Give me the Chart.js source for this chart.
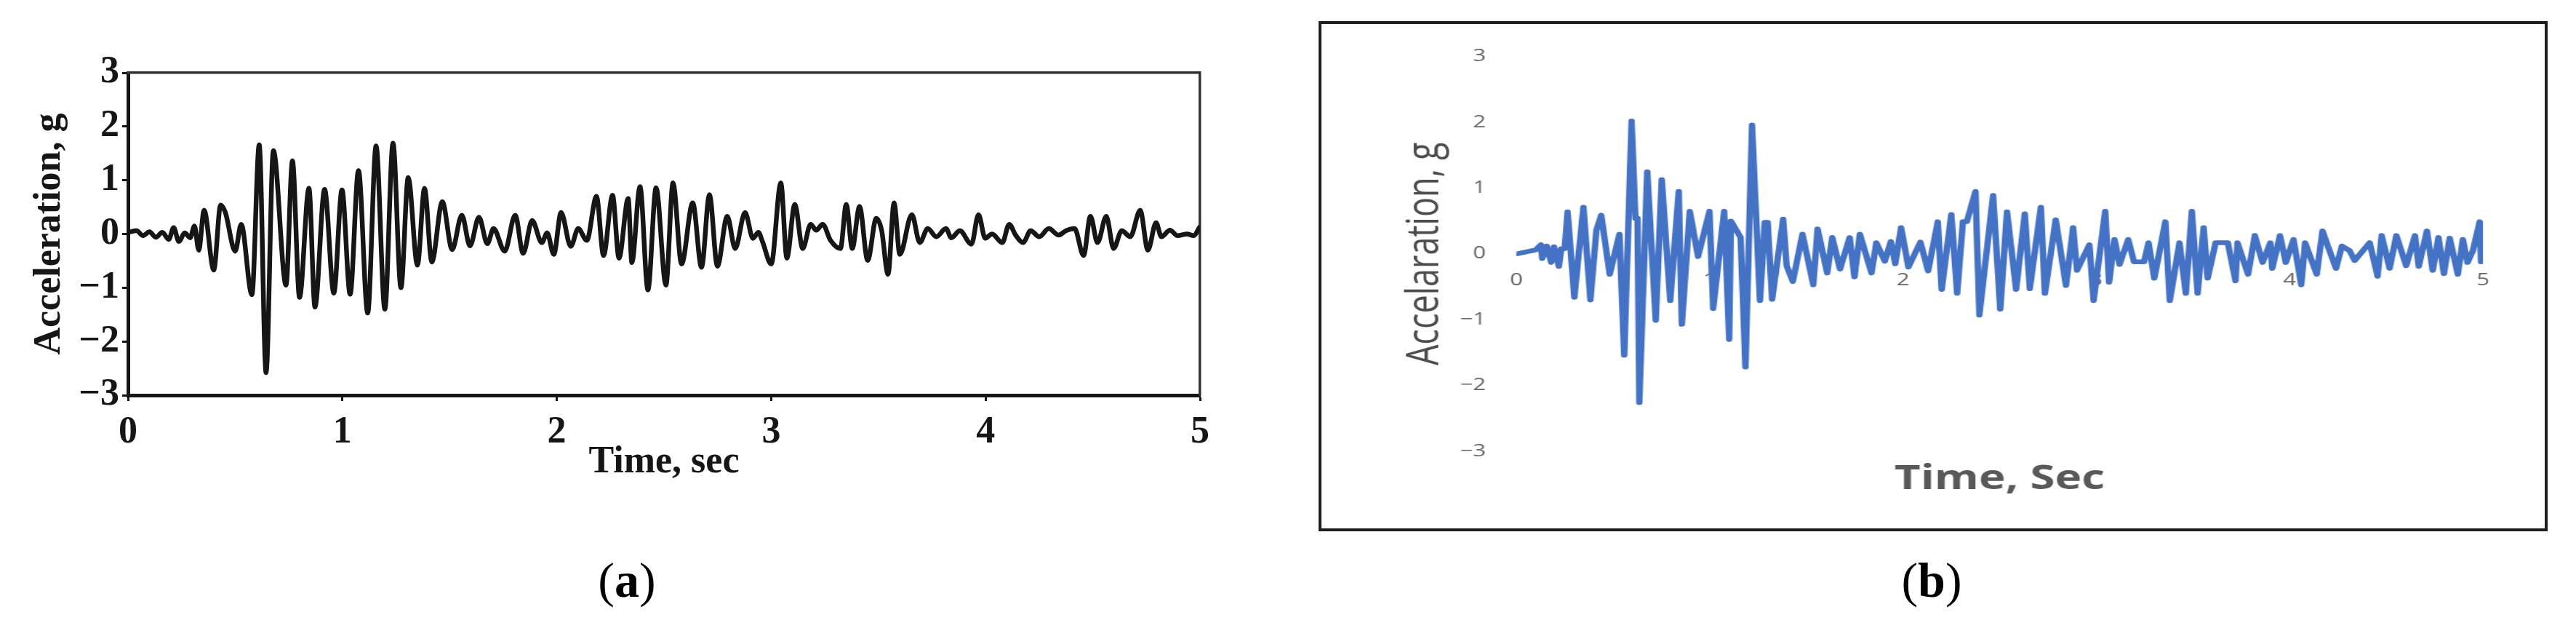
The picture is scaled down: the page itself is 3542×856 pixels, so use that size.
<!DOCTYPE html>
<html>
<head>
<meta charset="utf-8">
<script src="https://cdn.jsdelivr.net/npm/chart.js@4.4.1/dist/chart.umd.min.js"></script>
<style>
  html, body { margin: 0; padding: 0; background: #fff; }
  body { width: 3542px; height: 856px; position: relative; overflow: hidden; }
  #chartA { position: absolute; left: 0; top: 0; }
  #boxB {
    position: absolute; left: 1813px; top: 29px; width: 1690px; height: 701px;
    border: 4px solid #1e1e1e; box-sizing: border-box; overflow: hidden;
  }
  #stretchB { position: absolute; left: 0; top: 0; transform: scaleX(1.35); transform-origin: 0 0; }
  .caption {
    position: absolute; top: 763px; transform: translateX(-50%);
    font-family: 'Liberation Serif', 'Times New Roman', serif; font-size: 68px; line-height: 1; color: #000;
  }
</style>
</head>
<body>
<canvas id="chartA" width="1720" height="720"></canvas>
<div id="boxB">
  <div id="stretchB"><canvas id="chartB" width="1246" height="693"></canvas></div>
</div>
<div class="caption" style="left:862px">(<b>a</b>)</div>
<div class="caption" style="left:2656px">(<b>b</b>)</div>

<script>
const timeA = [0, 0.04, 0.07, 0.10, 0.13, 0.16, 0.19, 0.213, 0.237, 0.265, 0.29, 0.31, 0.33, 0.355, 0.40,
  0.432, 0.454, 0.50, 0.528, 0.578, 0.612, 0.644, 0.678, 0.737, 0.767, 0.80, 0.844, 0.872, 0.917, 0.96,
  0.998, 1.036, 1.075, 1.118, 1.157, 1.198, 1.236, 1.273, 1.307, 1.35, 1.383, 1.417, 1.466, 1.512, 1.557,
  1.595, 1.637, 1.676, 1.705, 1.757, 1.806, 1.843, 1.885, 1.93, 1.955, 1.986, 2.02, 2.065, 2.10, 2.14,
  2.185, 2.218, 2.26, 2.29, 2.333, 2.35, 2.388, 2.425, 2.463, 2.509, 2.542, 2.582, 2.634, 2.675, 2.712,
  2.749, 2.795, 2.832, 2.878, 2.915, 2.94, 2.96, 3.0, 3.045, 3.073, 3.11, 3.147, 3.184, 3.21, 3.24,
  3.277, 3.323, 3.35, 3.378, 3.412, 3.45, 3.49, 3.515, 3.545, 3.573, 3.60, 3.656, 3.693, 3.73, 3.77,
  3.815, 3.84, 3.88, 3.934, 3.967, 3.998, 4.03, 4.078, 4.11, 4.14, 4.175, 4.21, 4.25, 4.295, 4.34,
  4.375, 4.415, 4.457, 4.489, 4.522, 4.563, 4.597, 4.635, 4.675, 4.721, 4.757, 4.795, 4.82, 4.86, 4.895,
  4.94, 4.97, 5.0];
const accA = [0.03, 0.06, -0.03, 0.04, -0.06, 0.03, -0.10, 0.12, -0.14, 0.02, -0.07, 0.15, -0.30, 0.44, -0.67,
  0.54, 0.40, -0.32, 0.18, -1.13, 1.66, -2.58, 1.55, -0.95, 1.36, -1.18, 0.85, -1.36, 0.83, -1.10,
  0.82, -1.12, 1.18, -1.47, 1.64, -1.40, 1.69, -1.00, 1.05, -0.58, 0.85, -0.52, 0.60, -0.29, 0.35,
  -0.22, 0.31, -0.18, 0.10, -0.32, 0.35, -0.36, 0.25, -0.16, 0.02, -0.38, 0.40, -0.23, 0.10, -0.12,
  0.70, -0.40, 0.72, -0.45, 0.66, -0.53, 0.88, -1.04, 0.86, -0.95, 0.95, -0.56, 0.58, -0.62, 0.73,
  -0.60, 0.33, -0.27, 0.40, -0.08, 0.03, -0.15, -0.56, 0.95, -0.45, 0.55, -0.27, 0.18, 0.07, 0.18,
  -0.12, -0.27, 0.55, -0.27, 0.51, -0.49, 0.29, 0.07, -0.75, 0.58, -0.38, 0.36, -0.16, 0.10, -0.05,
  0.10, -0.07, 0.06, -0.19, 0.36, -0.08, 0.0, -0.16, 0.18, -0.02, -0.16, 0.06, -0.05, 0.10, -0.02,
  0.06, 0.10, -0.40, 0.33, -0.16, 0.33, -0.27, 0.06, -0.05, 0.44, -0.30, 0.21, -0.05, 0.07, -0.03,
  0.0, -0.03, 0.14];

// panel (b): simulated record, straight segments between samples
const timeB = [0, 0.10, 0.127, 0.134, 0.158, 0.18, 0.195, 0.22, 0.232, 0.25, 0.265, 0.30, 0.347, 0.383, 0.414,
  0.439, 0.483, 0.533, 0.558, 0.596, 0.616, 0.627, 0.636, 0.677, 0.721, 0.752, 0.796, 0.840, 0.856, 0.897,
  0.94, 0.999, 1.018, 1.075, 1.101, 1.11, 1.16, 1.185, 1.219, 1.26, 1.285, 1.30, 1.323, 1.38, 1.398,
  1.43, 1.48, 1.536, 1.558, 1.608, 1.634, 1.674, 1.724, 1.749, 1.777, 1.837, 1.862, 1.906, 1.937, 1.96,
  1.99, 2.028, 2.09, 2.13, 2.18, 2.20, 2.25, 2.28, 2.31, 2.33, 2.375, 2.395, 2.466, 2.503, 2.538,
  2.585, 2.63, 2.656, 2.713, 2.734, 2.79, 2.843, 2.88, 2.90, 2.964, 2.986, 3.046, 3.066, 3.094, 3.12,
  3.165, 3.195, 3.247, 3.27, 3.30, 3.357, 3.38, 3.43, 3.463, 3.494, 3.524, 3.555, 3.576, 3.617, 3.68,
  3.72, 3.73, 3.785, 3.82, 3.86, 3.90, 3.91, 3.95, 3.98, 4.02, 4.06, 4.08, 4.14, 4.17, 4.20,
  4.24, 4.27, 4.31, 4.336, 4.414, 4.455, 4.476, 4.517, 4.552, 4.603, 4.648, 4.668, 4.71, 4.74, 4.77,
  4.798, 4.828, 4.87, 4.896, 4.92, 4.948, 4.983, 4.99];
const accB = [0, 0.06, 0.14, -0.07, 0.12, -0.13, 0.11, -0.19, 0.08, 0.08, 0.64, -0.66, 0.71, -0.70, 0.36,
  0.59, -0.31, 0.30, -1.54, 2.02, 0.54, 0.54, -2.26, 1.25, -1.01, 1.13, -0.71, 0.95, -1.07, 0.65,
  -0.04, 0.65, -0.83, 0.65, -1.30, 0.50, 0.25, -1.72, 1.96, -0.71, 0.48, 0.48, -0.69, 0.53, -0.18,
  -0.42, 0.30, -0.47, 0.38, -0.29, 0.25, -0.23, 0.25, -0.35, 0.30, -0.29, 0.17, -0.11, 0.19, -0.15,
  0.40, -0.20, 0.18, -0.26, 0.49, -0.54, 0.60, -0.60, 0.49, 0.49, 0.95, -0.93, 0.89, -0.84, 0.64,
  -0.54, 0.61, -0.53, 0.71, -0.60, 0.52, -0.48, 0.40, -0.25, 0.14, -0.71, 0.65, -0.43, 0.22, -0.16,
  0.22, -0.12, -0.12, 0.17, -0.37, 0.49, -0.71, 0.17, -0.60, 0.65, -0.60, 0.40, -0.37, 0.17, 0.17,
  -0.41, 0.17, -0.31, 0.28, -0.13, 0.17, -0.22, 0.28, -0.13, 0.22, -0.47, 0.17, -0.31, 0.35, 0.10,
  -0.22, 0.12, 0.05, -0.10, 0.17, -0.34, 0.28, -0.22, 0.28, -0.18, 0.28, -0.19, 0.35, -0.25, 0.25,
  -0.30, 0.24, -0.31, 0.22, -0.13, 0.05, 0.49, -0.12];

const timeTicks = [0, 1, 2, 3, 4, 5];
const accTicks = [-3, -2, -1, 0, 1, 2, 3];

const serif = "'Liberation Serif', 'Times New Roman', serif";
const sans = "'Open Sans', 'Noto Sans', sans-serif";
const ink = '#161616';

const fmt = v => String(v).replace('-', '\u2212');
const useTicks = list => scale => { scale.ticks = list.map(v => ({ value: v })); };
const points = (xs, ys) => xs.map((x, i) => ({ x: x, y: ys[i] }));

// (a)
new Chart(document.getElementById('chartA'), {
    type: 'line',
    data: {
        datasets: [{
            data: points(timeA, accA),
            borderColor: ink,
            borderWidth: 6.5,
            pointRadius: 0,
            cubicInterpolationMode: 'monotone',
            fill: false
        }]
    },
    options: {
        responsive: false,
        animation: false,
        events: [],
        plugins: { legend: { display: false }, tooltip: { enabled: false } },
        layout: { padding: { top: 100, right: 70, left: 0, bottom: 0 } },
        scales: {
            x: {
                type: 'linear', min: 0, max: 5,
                afterBuildTicks: useTicks(timeTicks),
                afterFit: s => { s.height = 177; },
                ticks: { color: ink, font: { family: serif, size: 52, weight: 'bold' }, padding: 12, maxRotation: 0, autoSkip: false, callback: fmt },
                grid: { display: true, drawOnChartArea: false, drawTicks: true, tickLength: 8, tickWidth: 3, tickColor: ink },
                border: { display: true, width: 5, color: ink },
                title: { display: true, text: 'Time, sec', color: ink, font: { family: serif, size: 52, weight: 'bold' }, padding: { top: 0, bottom: 53 } }
            },
            y: {
                type: 'linear', min: -3, max: 3,
                afterBuildTicks: useTicks(accTicks),
                afterFit: s => { s.width = 176; },
                ticks: { color: ink, font: { family: serif, size: 52, weight: 'bold' }, padding: 4, autoSkip: false, callback: fmt },
                grid: { display: true, drawOnChartArea: false, drawTicks: true, tickLength: 8, tickWidth: 3, tickColor: ink },
                border: { display: true, width: 5, color: ink },
                title: { display: true, text: 'Acceleration, g', color: ink, font: { family: serif, size: 52, weight: 'bold' }, padding: { top: 37, bottom: 0 } }
            },
            xTop: {
                type: 'linear', position: 'top', min: 0, max: 5,
                afterFit: s => { s.height = 0; },
                ticks: { display: false },
                grid: { display: false, drawTicks: false },
                border: { display: true, width: 3.5, color: '#333' }
            },
            yRight: {
                type: 'linear', position: 'right', min: -3, max: 3,
                afterFit: s => { s.width = 0; },
                ticks: { display: false },
                grid: { display: false, drawTicks: false },
                border: { display: true, width: 3.5, color: '#333' }
            }
        }
    }
});

// (b)
new Chart(document.getElementById('chartB'), {
    type: 'line',
    data: {
        datasets: [{
            data: points(timeB, accB),
            borderColor: '#4472C4',
            borderWidth: 6.5,
            pointRadius: 0,
            tension: 0,
            borderJoinStyle: 'round',
            borderCapStyle: 'round',
            fill: false
        }]
    },
    options: {
        responsive: false,
        animation: false,
        events: [],
        plugins: { legend: { display: false }, tooltip: { enabled: false } },
        layout: { padding: { top: 32.5, right: 63, left: 0, bottom: 0 } },
        scales: {
            x: {
                type: 'linear', min: 0, max: 5, position: { y: 0 }, z: 1,
                afterBuildTicks: useTicks(timeTicks),
                afterFit: s => { s.height = 0; },
                ticks: { color: '#666', font: { family: sans, size: 23 }, padding: 23, maxRotation: 0, autoSkip: false },
                grid: { display: false, drawTicks: false },
                border: { display: false }
            },
            xTitle: {
                type: 'linear', position: 'bottom', min: 0, max: 5,
                afterFit: s => { s.height = 106; },
                ticks: { display: false },
                grid: { display: false, drawTicks: false },
                border: { display: false },
                title: { display: true, text: 'Time, Sec', color: '#595959', font: { family: sans, size: 46, weight: 'bold' }, padding: { top: 0, bottom: 40 } }
            },
            y: {
                type: 'linear', min: -3, max: 3,
                afterBuildTicks: useTicks(accTicks),
                afterFit: s => { s.width = 198.5; },
                ticks: { color: '#666', font: { family: sans, size: 23 }, padding: 31, autoSkip: false, callback: fmt },
                grid: { display: false, drawTicks: false },
                border: { display: false },
                title: { display: true, text: 'Accelaration, g', color: '#4d4d4d', font: { family: sans, size: 45 }, padding: { top: 79, bottom: 0 } }
            }
        }
    }
});
</script>
</body>
</html>
